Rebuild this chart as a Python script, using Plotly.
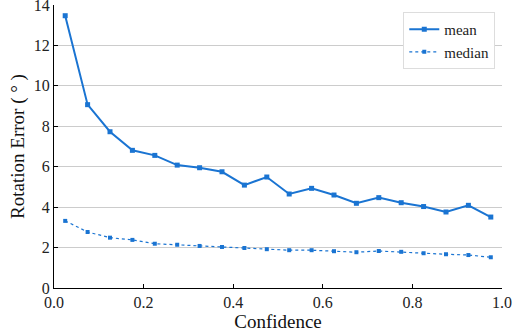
import plotly.graph_objects as go

confidence = [0.025, 0.075, 0.125, 0.175, 0.225, 0.275, 0.325, 0.375, 0.425, 0.475,
              0.525, 0.575, 0.625, 0.675, 0.725, 0.775, 0.825, 0.875, 0.925, 0.975]
mean_err = [13.47, 9.07, 7.73, 6.81, 6.56, 6.08, 5.95, 5.75, 5.09, 5.49,
            4.65, 4.93, 4.60, 4.19, 4.47, 4.22, 4.03, 3.76, 4.09, 3.51]
median_err = [3.32, 2.77, 2.49, 2.38, 2.19, 2.14, 2.08, 2.03, 1.98, 1.92,
              1.87, 1.87, 1.82, 1.77, 1.83, 1.79, 1.72, 1.67, 1.63, 1.52]
x_ticks = [0.0, 0.2, 0.4, 0.6, 0.8, 1.0]
y_ticks = [0, 2, 4, 6, 8, 10, 12, 14]

color = "#1a74d2"
font = "Liberation Serif, Times New Roman, serif"
tick_font = dict(family=font, size=16, color="#222")

fig = go.Figure()
fig.add_trace(go.Scatter(x=confidence, y=mean_err, mode="lines+markers", name="mean",
                         line=dict(color=color, width=2),
                         marker=dict(symbol="square", size=5, color=color)))
fig.add_trace(go.Scatter(x=confidence, y=median_err, mode="lines+markers", name="median",
                         line=dict(color=color, width=1.2, dash="dot"),
                         marker=dict(symbol="square", size=4, color=color)))

fig.update_layout(
    template="simple_white",
    width=522, height=333,
    margin=dict(l=54, r=20, t=5, b=45, autoexpand=False),
    plot_bgcolor="white", paper_bgcolor="white",
    font=dict(family=font, size=15, color="#222"),
    showlegend=True,
    legend=dict(x=0.985, y=0.975, xanchor="right", yanchor="top",
                bgcolor="white", bordercolor="#dddddd", borderwidth=1,
                font=dict(family=font, size=15, color="#222"),
                itemwidth=30, tracegroupgap=0),
    xaxis=dict(range=[0, 1], tickvals=x_ticks, ticktext=[f"{v:.1f}" for v in x_ticks],
               tickfont=tick_font, ticklabeloverflow="allow",
               ticks="inside", ticklen=4, tickcolor="black",
               showline=True, linecolor="black", linewidth=1.2, mirror=False,
               showgrid=False, zeroline=False,
               title=dict(text="Confidence", font=dict(family=font, size=19, color="#111"), standoff=2)),
    yaxis=dict(range=[0, 14], tickvals=y_ticks, ticktext=[str(v) for v in y_ticks],
               tickfont=tick_font, ticklabeloverflow="allow",
               ticks="inside", ticklen=4, tickcolor="black",
               showline=True, linecolor="black", linewidth=1.2, mirror=False,
               showgrid=True, gridcolor="#cccccc", gridwidth=1, zeroline=False,
               title=dict(text="Rotation Error ( ° )", font=dict(family=font, size=19, color="#111"), standoff=4)),
)

fig.write_html("out.html", config={"displayModeBar": False},
               post_script="document.body.style.margin='0';document.body.style.padding='0';")
